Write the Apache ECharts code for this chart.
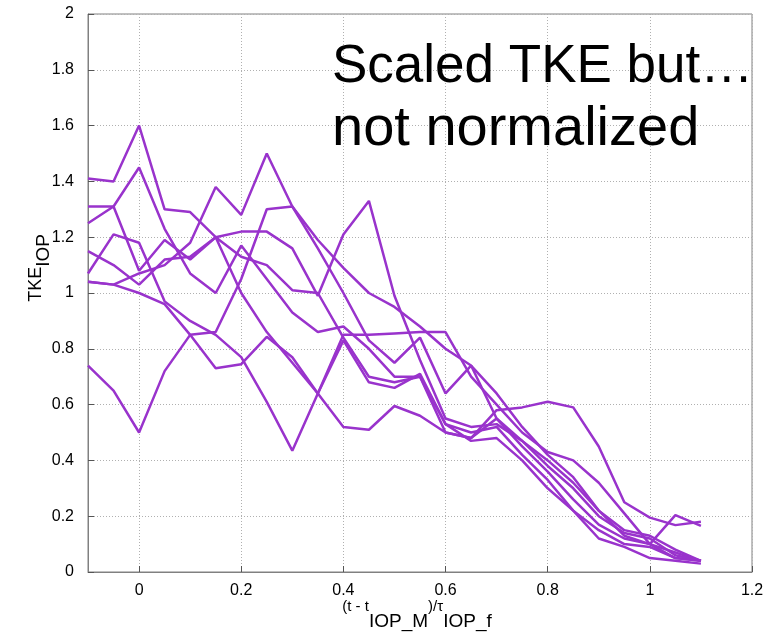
<!DOCTYPE html>
<html>
<head>
<meta charset="utf-8">
<script src="https://cdn.jsdelivr.net/npm/echarts@6/dist/echarts.min.js"></script>
<style>
html,body{margin:0;padding:0;background:#fff;}
#chart{width:769px;height:635px;}
</style>
</head>
<body>
<div id="chart"></div>
<script>
// x positions (normalized time)
var xValues = [-0.1,-0.05,0,0.05,0.1,0.15,0.2,0.25,0.3,0.35,0.4,0.45,0.5,0.55,0.6,0.65,0.7,0.75,0.8,0.85,0.9,0.95,1.0,1.05,1.1];
var xTicks = [0,0.2,0.4,0.6,0.8,1,1.2];
// TKE_IOP series (one per IOP)
var s1 = [1.41,1.40,1.60,1.30,1.29,1.20,1.13,1.10,1.01,1.00,0.84,0.70,0.68,0.70,0.50,0.48,0.55,0.45,0.36,0.26,0.17,0.12,0.10,0.05,0.04];
var s2 = [1.25,1.31,1.45,1.23,1.07,1.00,1.17,1.05,0.93,0.86,0.88,0.80,0.70,0.70,0.53,0.50,0.52,0.42,0.33,0.22,0.15,0.10,0.09,0.05,0.04];
var s3 = [1.04,1.03,1.07,1.10,1.18,1.38,1.28,1.50,1.31,1.19,1.09,1.00,0.95,0.88,0.80,0.74,0.64,0.52,0.42,0.34,0.22,0.15,0.13,0.08,0.04];
var s4 = [1.15,1.10,1.03,1.12,1.13,1.20,1.22,1.22,1.16,0.99,1.21,1.33,0.99,0.76,0.55,0.52,0.53,0.47,0.40,0.32,0.22,0.13,0.10,0.07,0.04];
var s5 = [0.74,0.65,0.50,0.72,0.85,0.86,1.05,1.30,1.31,1.16,1.00,0.83,0.75,0.84,0.64,0.74,0.55,0.47,0.38,0.30,0.20,0.14,0.12,0.06,0.04];
var s6 = [1.07,1.21,1.18,0.97,0.90,0.85,0.77,0.61,0.435,0.64,0.85,0.85,0.855,0.86,0.86,0.70,0.60,0.50,0.43,0.40,0.32,0.21,0.10,0.204,0.165];
var s7 = [1.04,1.03,1.00,0.96,0.85,0.73,0.745,0.843,0.77,0.64,0.52,0.51,0.595,0.56,0.50,0.48,0.58,0.59,0.61,0.59,0.45,0.25,0.195,0.168,0.18];
var s8 = [1.31,1.31,1.08,1.19,1.12,1.20,1.00,0.86,0.75,0.64,0.83,0.68,0.66,0.71,0.53,0.47,0.48,0.40,0.30,0.22,0.12,0.09,0.05,0.04,0.03];
var allSeries = [s1,s2,s3,s4,s5,s6,s7,s8];

var lineColor = '#9933cc';
var chart = echarts.init(document.getElementById('chart'), null, {renderer:'canvas'});
var series = allSeries.map(function(vals){
  return {
    type:'line',
    data: xValues.map(function(x,i){return [x, vals[i]];}),
    showSymbol:false,
    symbol:'none',
    lineStyle:{color:lineColor,width:2.5},
    animation:false
  };
});
var font = 'Liberation Sans, Arial, sans-serif';
chart.setOption({
  backgroundColor:'#fff',
  animation:false,
  grid:{left:88,right:17,top:14,bottom:63,show:true,borderColor:'#808080',borderWidth:1,backgroundColor:'transparent'},
  xAxis:{
    type:'value', min:-0.1, max:1.2,
    axisLine:{show:true,onZero:false,lineStyle:{color:'#808080',width:1}},
    axisTick:{show:true,inside:true,length:6,customValues:xTicks,lineStyle:{color:'#555'}},
    axisLabel:{customValues:xTicks,color:'#000',fontSize:16,fontFamily:font,margin:11},
    splitLine:{show:true,lineStyle:{color:'#b0b0b0',type:[1,2],width:1}}
  },
  yAxis:{
    type:'value', min:0, max:2, interval:0.2,
    axisLine:{show:true,onZero:false,lineStyle:{color:'#808080',width:1}},
    axisTick:{show:true,inside:true,length:6,lineStyle:{color:'#555'}},
    axisLabel:{color:'#000',fontSize:16,fontFamily:font,margin:14},
    splitLine:{show:true,lineStyle:{color:'#b0b0b0',type:[1,2],width:1}}
  },
  graphic:[
    {type:'text',left:332,top:41,z:100,style:{text:'Scaled TKE but…',fontSize:53,fontFamily:font,fill:'#000'}},
    {type:'text',left:332,top:102,z:100,style:{text:'not normalized',fontSize:56,fontFamily:font,fill:'#000'}},
    {type:'text',x:40,y:268,rotation:Math.PI/2,z:100,style:{text:'{a|TKE}{b|IOP}',align:'center',verticalAlign:'middle',fontFamily:font,
      rich:{a:{fontSize:18,fontFamily:font,fill:'#000',lineHeight:26,verticalAlign:'top'},b:{fontSize:19,fontFamily:font,fill:'#000',lineHeight:26,verticalAlign:'bottom'}}}},
    {type:'text',x:417,y:615,z:100,style:{text:'{a|(t - t}{b|IOP_M}{a|)/τ}{b|IOP_f}',align:'center',verticalAlign:'middle',fontFamily:font,
      rich:{a:{fontSize:15,fontFamily:font,fill:'#000',lineHeight:32,verticalAlign:'top'},b:{fontSize:19,fontFamily:font,fill:'#000',lineHeight:32,verticalAlign:'bottom'}}}}
  ],
  series:series
});
</script>
</body>
</html>
